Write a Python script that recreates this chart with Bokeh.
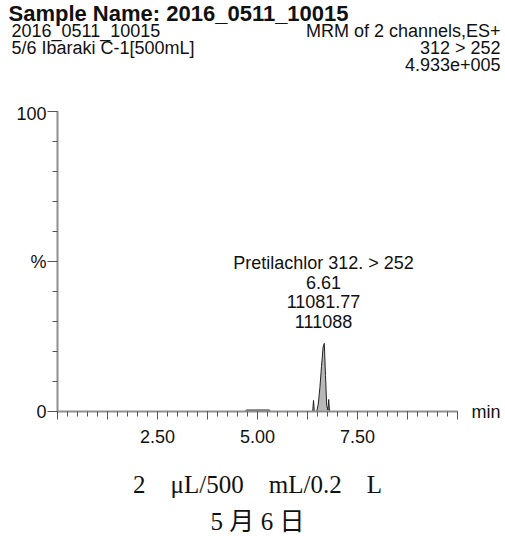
from bokeh.plotting import figure
from bokeh.models import Label, FixedTicker, Range1d
from bokeh.layouts import column, row
from bokeh.embed import file_html
from bokeh.resources import INLINE

# ---- data ----
rt_min = [0.10, 4.70, 4.72, 5.30, 5.32, 6.38, 6.40, 6.42, 6.48, 6.52, 6.56, 6.60,
          6.64, 6.67, 6.70, 6.73, 6.76, 6.78, 6.80, 10.0]
intensity_pct = [0.0, 0.0, 0.5, 0.5, 0.0, 0.0, 3.7, 0.0, 0.0, 2.5, 8.0, 15.0,
                 21.5, 22.7, 12.0, 2.0, 0.5, 4.0, 0.0, 0.0]

x_major_ticks = [0, 1.25, 2.5, 3.75, 5.0, 6.25, 7.5, 8.75, 10.0]
x_minor_ticks = [i * 0.25 for i in range(41)]
x_tick_labels = ["", "", "2.50", "", "5.00", "", "7.50", "", ""]
y_major_ticks = [0, 50, 100]
y_minor_ticks = list(range(0, 101, 10))
y_tick_labels = ["0", "%", "100"]

title_text = "Sample Name: 2016_0511_10015"
left_header = ["2016_0511_10015", "5/6 Ibaraki C-1[500mL]"]
right_header = ["MRM of 2 channels,ES+", "312 > 252", "4.933e+005"]
peak_annotation = ["Pretilachlor 312. > 252", "6.61", "11081.77", "111088"]
x_unit = "min"
bottom_lines = ["2\u3000\u03bcL/500\u3000mL/0.2\u3000L", "5 月 6 日"]

W, H = 505, 536
SANS = "Liberation Sans"
SERIF = "Liberation Serif, Noto Sans CJK JP"


def text_panel(left, right, top, bottom):
    """A figure with no axes whose data units are page pixels."""
    f = figure(width=right - left, height=bottom - top, x_range=Range1d(left, right),
               y_range=Range1d(bottom, top), output_backend="svg",
               toolbar_location=None, x_axis_type=None, y_axis_type=None,
               min_border=0, frame_align=False)
    f.outline_line_color = None
    f.grid.visible = False
    return f


def add_text(f, text, x, y, size, align="left", bold=False, font=SANS):
    f.add_layout(Label(x=x, y=y, text=text, text_font=font,
                       text_font_size=f"{size}px", text_align=align,
                       text_baseline="middle", text_color="#111111",
                       text_font_style="bold" if bold else "normal"))


# ---- geometry of the main chart ----
TOP, BOT = 103, 455
RIGHT = 466
X0, PXX = 57.0, 40.0     # page x of 0 min, px per min
Y0, PXY = 411.0, 3.0     # page y of 0 %, px per %

# ---- header ----
head = text_panel(0, W, 0, TOP)
add_text(head, title_text, 8, 13, 22, bold=True)
for i, t in enumerate(left_header):
    add_text(head, t, 11, 30.5 + i * 16.5, 18)
for i, t in enumerate(right_header):
    add_text(head, t, 500, 30.5 + i * 16.5, 18, align="right")

# ---- main chart ----
p = figure(width=RIGHT, height=BOT - TOP,
           x_range=Range1d(0, (RIGHT - X0) / PXX), y_range=Range1d(0, 100),
           output_backend="svg", toolbar_location=None, frame_align=False,
           min_border_left=int(X0), min_border_right=0,
           min_border_top=int(Y0 - 100 * PXY - TOP), min_border_bottom=int(BOT - Y0))
p.outline_line_color = None
p.grid.visible = False

axis_col = "#8f8f8f"
tick_col = "#555555"
for ax in (p.xaxis[0], p.yaxis[0]):
    ax.axis_line_color = axis_col
    ax.axis_line_width = 2
    ax.major_tick_line_color = tick_col
    ax.minor_tick_line_color = tick_col
    ax.major_tick_in = 0
    ax.minor_tick_in = 0
    ax.major_label_text_font = SANS
    ax.major_label_text_font_size = "18px"
    ax.major_label_text_color = "#111111"

p.xaxis.ticker = FixedTicker(ticks=x_major_ticks, minor_ticks=x_minor_ticks)
p.xaxis.major_label_overrides = {t: l for t, l in zip(x_major_ticks, x_tick_labels)}
p.xaxis.bounds = (0, 10)
p.xaxis.major_tick_out = 8
p.xaxis.minor_tick_out = 5
p.xaxis.major_label_standoff = 10

p.yaxis.ticker = FixedTicker(ticks=y_major_ticks, minor_ticks=y_minor_ticks)
p.yaxis.major_label_overrides = {t: l for t, l in zip(y_major_ticks, y_tick_labels)}
p.yaxis.major_tick_out = 10
p.yaxis.minor_tick_out = 5
p.yaxis.major_label_standoff = 1

# peak fill + trace
p.varea(x=rt_min, y1=[0] * len(rt_min), y2=intensity_pct, fill_color="#b8b8b8")
p.line(x=rt_min, y=intensity_pct, line_color="#222222", line_width=1)

for i, t in enumerate(peak_annotation):
    p.add_layout(Label(x=(323 - X0) / PXX, y=(Y0 - (262 + i * 19.5)) / PXY, text=t,
                       text_font=SANS, text_font_size="18px", text_align="center",
                       text_baseline="middle", text_color="#111111"))

# ---- "min" unit at the right end of the time axis ----
unit = text_panel(RIGHT, W, TOP, BOT)
add_text(unit, x_unit, 471, 411, 18)

# ---- footer ----
foot = text_panel(0, W, BOT, H)
add_text(foot, bottom_lines[0], 257, 484, 25, align="center", font=SERIF)
add_text(foot, bottom_lines[1], 257, 521, 25, align="center", font=SERIF)

layout = column(head, row(p, unit, spacing=0), foot, spacing=0)
open("out.html", "w").write(file_html(layout, INLINE))
